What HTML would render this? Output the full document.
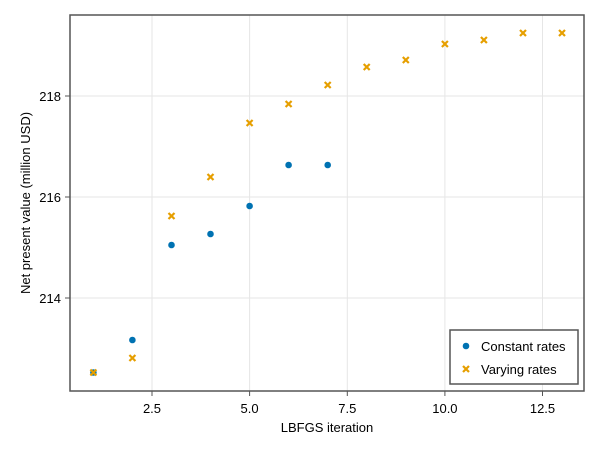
<!DOCTYPE html><html><head><style>body{margin:0;background:#fff}</style></head><body>
<svg width="600" height="450" xmlns="http://www.w3.org/2000/svg" font-family="Liberation Sans, sans-serif" font-size="13">
<defs>
<g id="c"><circle r="3.3" fill="#0072b2"/></g>
<g id="x"><path d="M-3,-3L3,3M-3,3L3,-3" stroke="#e69f00" stroke-width="2.2"/></g>
</defs>
<g stroke="#e6e6e6" stroke-width="1">
<line x1="152" y1="15" x2="152" y2="391"/><line x1="249.6" y1="15" x2="249.6" y2="391"/>
<line x1="347.3" y1="15" x2="347.3" y2="391"/><line x1="444.9" y1="15" x2="444.9" y2="391"/>
<line x1="542.5" y1="15" x2="542.5" y2="391"/>
<line x1="70" y1="298" x2="584" y2="298"/><line x1="70" y1="197" x2="584" y2="197"/><line x1="70" y1="96" x2="584" y2="96"/>
</g>
<rect x="70" y="15" width="514" height="376" fill="none" stroke="#555" stroke-width="1.5"/>
<g stroke="#555" stroke-width="1">
<line x1="152" y1="391" x2="152" y2="396"/><line x1="249.6" y1="391" x2="249.6" y2="396"/>
<line x1="347.3" y1="391" x2="347.3" y2="396"/><line x1="444.9" y1="391" x2="444.9" y2="396"/>
<line x1="542.5" y1="391" x2="542.5" y2="396"/>
<line x1="65" y1="298" x2="70" y2="298"/><line x1="65" y1="197" x2="70" y2="197"/><line x1="65" y1="96" x2="70" y2="96"/>
</g>
<g text-anchor="middle">
<text x="152" y="413">2.5</text><text x="249.6" y="413">5.0</text><text x="347.3" y="413">7.5</text>
<text x="444.9" y="413">10.0</text><text x="542.5" y="413">12.5</text>
<text x="327" y="432">LBFGS iteration</text>
</g>
<g text-anchor="end"><text x="61" y="303">214</text><text x="61" y="202">216</text><text x="61" y="101">218</text></g>
<text transform="translate(30,203) rotate(-90)" text-anchor="middle">Net present value (million USD)</text>
<use href="#c" x="93.4" y="372.5"/><use href="#c" x="132.4" y="340"/><use href="#c" x="171.5" y="245"/>
<use href="#c" x="210.5" y="234"/><use href="#c" x="249.6" y="206"/><use href="#c" x="288.6" y="165"/><use href="#c" x="327.7" y="165"/>
<use href="#x" x="93.4" y="372.5"/><use href="#x" x="132.4" y="358"/><use href="#x" x="171.5" y="216"/>
<use href="#x" x="210.5" y="177"/><use href="#x" x="249.6" y="123"/><use href="#x" x="288.6" y="104"/>
<use href="#x" x="327.7" y="85"/><use href="#x" x="366.7" y="67"/><use href="#x" x="405.8" y="60"/>
<use href="#x" x="444.9" y="44"/><use href="#x" x="483.9" y="40"/><use href="#x" x="523" y="33"/><use href="#x" x="562" y="33"/>
<rect x="450" y="330" width="128" height="54" fill="#fff" stroke="#555" stroke-width="1.5"/>
<use href="#c" x="466" y="346"/><use href="#x" x="466" y="369"/>
<text x="481" y="351">Constant rates</text><text x="481" y="374">Varying rates</text>
</svg>
</body></html>
